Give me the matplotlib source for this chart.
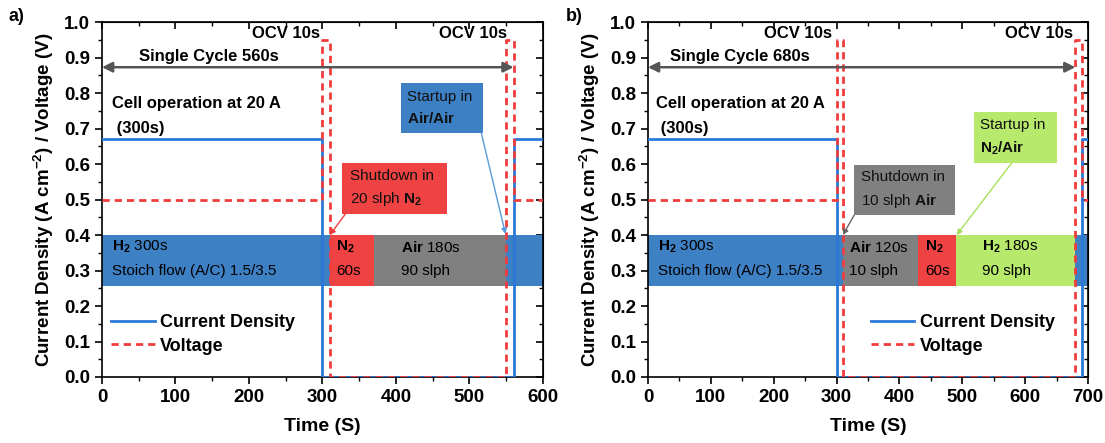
"""Shutdown/startup cycle protocol – two panels (a: N2 shutdown, b: air shutdown)."""

import matplotlib
matplotlib.use("Agg")
import matplotlib.pyplot as plt
from matplotlib.patches import Rectangle
from matplotlib.ticker import MultipleLocator

plt.rcParams["font.family"] = ["Liberation Sans", "DejaVu Sans"]
plt.rcParams["mathtext.fontset"] = "custom"
plt.rcParams["mathtext.rm"] = "Liberation Sans"
plt.rcParams["mathtext.bf"] = "Liberation Sans:bold"
plt.rcParams["mathtext.it"] = "Liberation Sans:italic"

# ── Data ──────────────────────────────────────────────────────────────────
# panel a)
a_cur_t = [0, 300, 560, 600]
a_cur_v = [0.67, 0.0, 0.67, 0.67]
a_volt_t = [0, 300, 310, 550, 560, 600]
a_volt_v = [0.5, 0.95, 0.0, 0.95, 0.5, 0.5]
a_band_edges = [0, 310, 370, 550, 600]
a_band_gas = ["H2", "N2", "Air", "H2"]
a_cycle = 560

# panel b)
b_cur_t = [0, 300, 690, 700]
b_cur_v = [0.67, 0.0, 0.67, 0.67]
b_volt_t = [0, 300, 310, 680, 690, 700]
b_volt_v = [0.5, 0.95, 0.0, 0.95, 0.5, 0.5]
b_band_edges = [0, 310, 430, 490, 680, 700]
b_band_gas = ["H2", "Air", "N2", "H2s", "H2"]
b_cycle = 680

# ── Style ─────────────────────────────────────────────────────────────────
CUR_COLOR = "#2b79d8"
VOLT_COLOR = "#f03c3c"
GAS_COLOR = {"H2": "#3d80c4", "N2": "#ef4242", "Air": "#808080", "H2s": "#b7e96c"}
ARROW_GRAY = "#555555"
BAND_LO, BAND_HI = 0.257, 0.40
FS_TICK = 13.5
FS_BAND = 11


def style_axes(ax, xmax):
    ax.set_xlim(0, xmax)
    ax.set_ylim(0, 1.0)
    ax.xaxis.set_major_locator(MultipleLocator(100))
    ax.xaxis.set_minor_locator(MultipleLocator(50))
    ax.yaxis.set_major_locator(MultipleLocator(0.1))
    ax.yaxis.set_minor_locator(MultipleLocator(0.05))
    ax.yaxis.set_major_formatter(lambda v, p: f"{v:.1f}")
    ax.tick_params(which="major", direction="out", length=5, width=1.2,
                   labelsize=FS_TICK)
    ax.tick_params(which="minor", direction="out", length=3, width=1.0)
    for lbl in ax.get_xticklabels() + ax.get_yticklabels():
        lbl.set_fontweight("bold")
    for spine in ax.spines.values():
        spine.set_linewidth(1.2)
    # mirrored inward ticks on top / right
    top = ax.secondary_xaxis("top")
    top.xaxis.set_major_locator(MultipleLocator(100))
    top.xaxis.set_minor_locator(MultipleLocator(50))
    top.tick_params(which="major", direction="in", length=5, width=1.2,
                    labeltop=False)
    top.tick_params(which="minor", direction="in", length=3, width=1.0)
    right = ax.secondary_yaxis("right")
    right.yaxis.set_major_locator(MultipleLocator(0.1))
    right.yaxis.set_minor_locator(MultipleLocator(0.05))
    right.tick_params(which="major", direction="in", length=5, width=1.2,
                      labelright=False)
    right.tick_params(which="minor", direction="in", length=3, width=1.0)
    ax.set_xlabel("Time (S)", fontsize=14, fontweight="bold", labelpad=9)
    ax.set_ylabel(r"Current Density (A cm$^{\mathbf{-2}}$) / Voltage (V)",
                  fontsize=13.5, fontweight="bold", labelpad=6)


def draw_bands(ax, edges, gases):
    for x0, x1, gas in zip(edges[:-1], edges[1:], gases):
        ax.add_patch(Rectangle((x0, BAND_LO), x1 - x0, BAND_HI - BAND_LO,
                               facecolor=GAS_COLOR[gas], edgecolor="none",
                               zorder=1))


def draw_lines(ax, cur_t, cur_v, volt_t, volt_v):
    ax.plot(cur_t, cur_v, drawstyle="steps-post", color=CUR_COLOR, lw=2.0,
            label="Current Density", zorder=3)
    ax.plot(volt_t, volt_v, drawstyle="steps-post", color=VOLT_COLOR, lw=2.0,
            ls=(0, (2.6, 1.8)), label="Voltage", zorder=4)


def text_box(ax, x0, y0, x1, y1, color, text):
    ax.add_patch(Rectangle((x0, y0), x1 - x0, y1 - y0, facecolor=color,
                           edgecolor="none", zorder=5))
    ax.text(x0 + (x1 - x0) * 0.07, (y0 + y1) / 2, text, fontsize=FS_BAND,
            va="center", ha="left", linespacing=1.6, color="#111111", zorder=6)


def pointer(ax, start, end, color):
    ax.annotate("", xy=end, xytext=start,
                arrowprops=dict(arrowstyle="-|>", color=color, lw=1.0,
                                mutation_scale=8, shrinkA=0, shrinkB=0),
                zorder=6)


def common_labels(ax, cycle, ocv_x):
    ax.annotate("", xy=(cycle, 0.873), xytext=(0, 0.873),
                arrowprops=dict(arrowstyle="<|-|>", color=ARROW_GRAY, lw=1.8,
                                mutation_scale=15, shrinkA=0, shrinkB=0),
                zorder=6)
    ax.text(146, 0.903, "Single Cycle %ds" % cycle, fontsize=12,
            fontweight="bold", ha="center", va="center")
    ax.text(13, 0.77, "Cell operation at 20 A", fontsize=12,
            fontweight="bold", ha="left", va="center")
    ax.text(13, 0.70, " (300s)", fontsize=12, fontweight="bold",
            ha="left", va="center")
    for x in ocv_x:
        ax.text(x, 0.968, "OCV 10s", fontsize=12, fontweight="bold",
                ha="right", va="center")


fig = plt.figure(figsize=(11.05, 4.43), dpi=100)
ax_a = fig.add_axes([0.0923, 0.149, 0.3991, 0.801])
ax_b = fig.add_axes([0.5864, 0.149, 0.3982, 0.801])

# ── Panel a ───────────────────────────────────────────────────────────────
style_axes(ax_a, 600)
draw_bands(ax_a, a_band_edges, a_band_gas)
draw_lines(ax_a, a_cur_t, a_cur_v, a_volt_t, a_volt_v)
common_labels(ax_a, a_cycle, [297, 551])

ax_a.text(14, 0.366, r"$\mathbf{H_2}$ 300s", fontsize=FS_BAND, va="center", zorder=6)
ax_a.text(14, 0.300, "Stoich flow (A/C) 1.5/3.5", fontsize=FS_BAND, va="center", zorder=6)
ax_a.text(319, 0.366, r"$\mathbf{N_2}$", fontsize=FS_BAND, va="center", zorder=6)
ax_a.text(319, 0.300, "60s", fontsize=FS_BAND, va="center", zorder=6)
ax_a.text(407, 0.366, r"$\mathbf{Air}$ 180s", fontsize=FS_BAND, va="center", zorder=6)
ax_a.text(407, 0.300, "90 slph", fontsize=FS_BAND, va="center", zorder=6)

text_box(ax_a, 327, 0.459, 469, 0.603, GAS_COLOR["N2"],
         "Shutdown in\n20 slph $\\mathbf{N_2}$")
pointer(ax_a, (331, 0.459), (310, 0.40), VOLT_COLOR)
text_box(ax_a, 407, 0.688, 519, 0.829, GAS_COLOR["H2"],
         "Startup in\n$\\mathbf{Air/Air}$")
pointer(ax_a, (516, 0.688), (549, 0.403), "#5a9ad8")

ax_a.legend(loc="center left", bbox_to_anchor=(0.005, 0.12), frameon=False,
            prop=dict(size=13, weight="bold"), handlelength=2.4,
            handletextpad=0.3, labelspacing=0.35, borderaxespad=0)

# ── Panel b ───────────────────────────────────────────────────────────────
style_axes(ax_b, 700)
draw_bands(ax_b, b_band_edges, b_band_gas)
draw_lines(ax_b, b_cur_t, b_cur_v, b_volt_t, b_volt_v)
common_labels(ax_b, b_cycle, [293, 676])

ax_b.text(16, 0.366, r"$\mathbf{H_2}$ 300s", fontsize=FS_BAND, va="center", zorder=6)
ax_b.text(16, 0.300, "Stoich flow (A/C) 1.5/3.5", fontsize=FS_BAND, va="center", zorder=6)
ax_b.text(320, 0.366, r"$\mathbf{Air}$ 120s", fontsize=FS_BAND, va="center", zorder=6)
ax_b.text(320, 0.300, "10 slph", fontsize=FS_BAND, va="center", zorder=6)
ax_b.text(441, 0.366, r"$\mathbf{N_2}$", fontsize=FS_BAND, va="center", zorder=6)
ax_b.text(441, 0.300, "60s", fontsize=FS_BAND, va="center", zorder=6)
ax_b.text(532, 0.366, r"$\mathbf{H_2}$ 180s", fontsize=FS_BAND, va="center", zorder=6)
ax_b.text(532, 0.300, "90 slph", fontsize=FS_BAND, va="center", zorder=6)

text_box(ax_b, 328, 0.456, 488, 0.597, GAS_COLOR["Air"],
         "Shutdown in\n10 slph $\\mathbf{Air}$")
pointer(ax_b, (328, 0.456), (310, 0.40), "#666666")
text_box(ax_b, 519, 0.604, 651, 0.746, GAS_COLOR["H2s"],
         "Startup in\n$\\mathbf{N_2/Air}$")
pointer(ax_b, (579, 0.604), (491, 0.40), "#a6e05a")

ax_b.legend(loc="center left", bbox_to_anchor=(0.49, 0.12), frameon=False,
            prop=dict(size=13, weight="bold"), handlelength=2.4,
            handletextpad=0.3, labelspacing=0.35, borderaxespad=0)

fig.text(0.008, 0.962, "a)", fontsize=13, fontweight="bold", va="center")
fig.text(0.512, 0.962, "b)", fontsize=13, fontweight="bold", va="center")

fig.savefig("out.png", dpi=100, facecolor="white")
